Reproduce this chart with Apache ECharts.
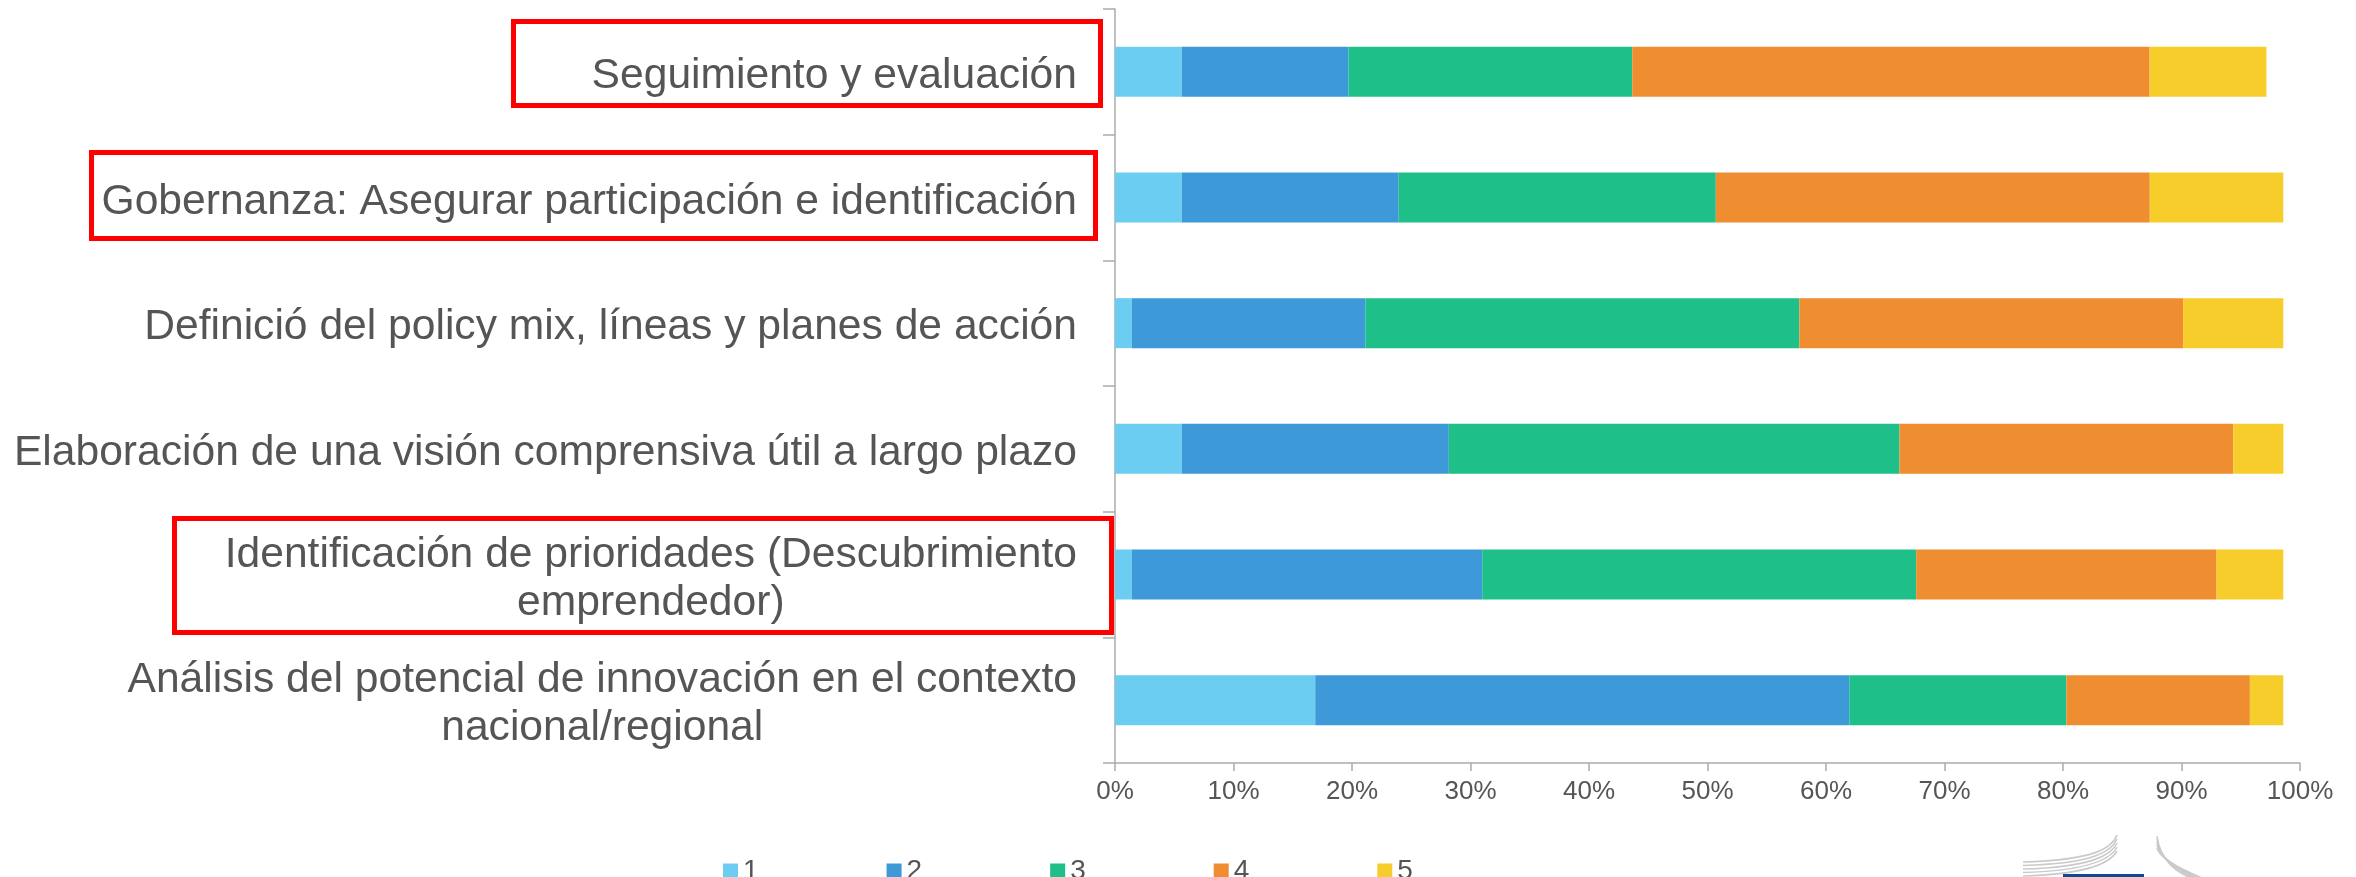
<!DOCTYPE html>
<html>
<head>
<meta charset="utf-8">
<script src="https://cdn.jsdelivr.net/npm/echarts@6/dist/echarts.min.js"></script>
<style>
  html, body { margin: 0; padding: 0; background: #ffffff; }
  #chart { width: 2356px; height: 877px; }
</style>
</head>
<body>
<div id="chart"></div>
<script>
// Categories, top to bottom
const categories = [
  'Seguimiento y evaluación',
  'Gobernanza: Asegurar participación e identificación',
  'Definició del policy mix, líneas y planes de acción',
  'Elaboración de una visión comprensiva útil a largo plazo',
  'Identificación de prioridades (Descubrimiento\nemprendedor)',
  'Análisis del potencial de innovación en el contexto\nnacional/regional'
];
const seriesNames = ['1', '2', '3', '4', '5'];
// Percentage of responses per score (top to bottom order)
const score1 = [5.63, 5.63, 1.41, 5.63, 1.41, 16.90];
const score2 = [14.08, 18.31, 19.72, 22.54, 29.58, 45.07];
const score3 = [23.94, 26.76, 36.62, 38.03, 36.62, 18.31];
const score4 = [43.66, 36.62, 32.39, 28.17, 25.35, 15.49];
const score5 = [9.86, 11.27, 8.45, 4.23, 5.63, 2.82];
const xTicks = [0, 10, 20, 30, 40, 50, 60, 70, 80, 90, 100];

const colors = ['#6CCDF2', '#3E99D8', '#1FBF8A', '#EE8E31', '#F7CD2B'];
const values = [score1, score2, score3, score4, score5];
const FONT = "'Liberation Sans', Arial, sans-serif";
const TEXT = '#555555';
const AXIS = '#ABABAB';

const chart = echarts.init(document.getElementById('chart'), null, { renderer: 'canvas' });

// Decorative elements: red highlight frames and logo
const frames = [
  { x: 513.5, y: 21.5, width: 587, height: 84 },
  { x: 91.5, y: 152.5, width: 1004, height: 86 },
  { x: 174.5, y: 518.5, width: 937, height: 114 }
];
const graphics = frames.map(f => ({
  type: 'rect', shape: f, z: 100,
  style: { fill: 'none', stroke: '#FF0000', lineWidth: 5 }
}));
for (let i = 0; i < 5; i++) {
  graphics.push({
    type: 'bezierCurve', z: 90,
    shape: { x1: 2023, y1: 862 + i * 3.5, cpx1: 2095, cpy1: 860 + i * 3.5, cpx2: 2112, cpy2: 848 + i * 3, x2: 2117, y2: 835 + i * 4 },
    style: { stroke: '#CACACA', lineWidth: 1.6, fill: 'none' }
  });
  graphics.push({
    type: 'bezierCurve', z: 90,
    shape: { x1: 2157, y1: 836 + i * 3, cpx1: 2160, cpy1: 860, cpx2: 2175 + i * 3, cpy2: 872, x2: 2195 + i * 3, y2: 880 },
    style: { stroke: '#CACACA', lineWidth: 1.6, fill: 'none' }
  });
}
graphics.push({
  type: 'rect', z: 95, shape: { x: 2063, y: 874, width: 81, height: 10 },
  style: { fill: '#0E4A94' }
});

const option = {
  animation: false,
  backgroundColor: '#ffffff',
  color: colors,
  grid: { left: 1115, right: 56, top: 9, bottom: 114, containLabel: false },
  legend: {
    data: seriesNames,
    left: 718, top: 852,
    icon: 'rect', itemWidth: 15, itemHeight: 15, itemGap: 128,
    textStyle: { fontSize: 28, color: TEXT, fontFamily: FONT }
  },
  xAxis: {
    type: 'value', min: 0, max: 100, interval: 10,
    axisLine: { show: true, lineStyle: { color: AXIS, width: 1.5 } },
    axisTick: { show: true, length: 8, lineStyle: { color: AXIS, width: 1.5 } },
    splitLine: { show: false },
    axisLabel: {
      margin: 16, fontSize: 26, color: TEXT, fontFamily: FONT,
      formatter: v => (xTicks.indexOf(v) >= 0 ? v + '%' : '')
    }
  },
  yAxis: {
    type: 'category', data: categories, inverse: true,
    axisLine: { show: true, lineStyle: { color: AXIS, width: 1.5 } },
    axisTick: { show: true, length: 12, lineStyle: { color: AXIS, width: 1.5 } },
    axisLabel: {
      margin: 38, fontSize: 42.6, color: TEXT, fontFamily: FONT, lineHeight: 48,
      padding: [9, 0, 0, 0],
      formatter: v => v.split('\n').map(l => '{c|' + l + '}').join('\n'),
      rich: { c: { align: 'center', fontSize: 42.6, lineHeight: 48, color: TEXT, fontFamily: FONT } }
    }
  },
  series: seriesNames.map((name, i) => ({
    name: name, type: 'bar', stack: 'total', barWidth: 50,
    data: values[i],
    itemStyle: { color: colors[i] }
  })),
  graphic: graphics
};
chart.setOption(option);
</script>
</body>
</html>
